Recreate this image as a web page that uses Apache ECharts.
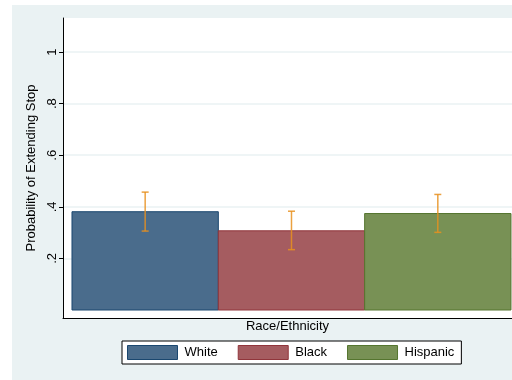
<!DOCTYPE html>
<html>
<head>
<meta charset="utf-8">
<script src="https://cdn.jsdelivr.net/npm/echarts@6/dist/echarts.min.js"></script>
<style>
  html, body { margin: 0; padding: 0; background: #fff; }
  #main { position: absolute; left: 12px; top: 5px; width: 500px; height: 375px; }
</style>
</head>
<body>
<div id="main"></div>
<script>
// 数据
var groups = ['White', 'Black', 'Hispanic'];
var probs = [0.381, 0.307, 0.374];
var ciLow = [0.306, 0.234, 0.301];
var ciHigh = [0.457, 0.383, 0.448];
var yTicks = [0.2, 0.4, 0.6, 0.8, 1];

var fills = ['#4a6c8c', '#a55c60', '#789155'];
var borders = ['#1a476f', '#90353b', '#55752f'];

(function(){

    var chart = echarts.init(document.getElementById('main'));

    // bar spans from x-0.5 to x+0.5 on the value axis
    function barItem(params, api) {
        var x = api.value(0);
        var p0 = api.coord([x - 0.5, api.value(1)]);
        var p1 = api.coord([x + 0.5, 0]);
        return {
            type: 'rect',
            shape: { x: p0[0], y: p0[1], width: p1[0] - p0[0], height: p1[1] - p0[1] },
            style: api.style({ lineWidth: 1 })
        };
    }

    function errItem(params, api) {
        var x = api.value(0);
        var lo = api.coord([x, api.value(1)]);
        var hi = api.coord([x, api.value(2)]);
        var cap = 3.5;
        var st = { stroke: '#e8901f', lineWidth: 1.5, opacity: 0.85 };
        return {
            type: 'group',
            children: [
                { type: 'line', shape: { x1: lo[0], y1: lo[1], x2: hi[0], y2: hi[1] }, style: st },
                { type: 'line', shape: { x1: lo[0] - cap, y1: lo[1], x2: lo[0] + cap, y2: lo[1] }, style: st },
                { type: 'line', shape: { x1: hi[0] - cap, y1: hi[1], x2: hi[0] + cap, y2: hi[1] }, style: st }
            ]
        };
    }

    var series = groups.map(function(name, i){
        return {
            name: name,
            type: 'custom',
            renderItem: barItem,
            itemStyle: { color: fills[i], borderColor: borders[i], borderWidth: 1 },
            encode: { x: 0, y: 1 },
            data: [[i + 0.5, probs[i]]]
        };
    });
    series.push({
        name: 'ci',
        type: 'custom',
        renderItem: errItem,
        encode: { x: 0, y: [1, 2] },
        data: groups.map(function(g, i){ return [i + 0.5, ciLow[i], ciHigh[i]]; }),
        z: 5
    });

    var option = {
        backgroundColor: '#eaf2f3',
        textStyle: { fontFamily: 'Liberation Sans, Arial, sans-serif' },
        animation: false,
        grid: {
            left: 51,
            right: 0,
            top: 13,
            bottom: 62,
            show: true,
            backgroundColor: '#fff',
            borderWidth: 0
        },
        legend: {
            left: 110,
            top: 336,
            padding: [4, 7, 4, 5],
            backgroundColor: '#fff',
            borderColor: '#000',
            borderWidth: 1,
            borderRadius: 0,
            itemWidth: 50,
            itemHeight: 14,
            itemGap: 20,
            icon: 'rect',
            textStyle: { fontSize: 13, color: '#000', padding: [0, 0, 0, 2] },
            data: groups.map(function(g, i){
                return { name: g, itemStyle: { color: fills[i], borderColor: borders[i], borderWidth: 1 } };
            })
        },
        xAxis: {
            type: 'value',
            min: -0.0615,
            max: 3.007,
            name: 'Race/Ethnicity',
            nameLocation: 'middle',
            nameGap: 2,
            nameTextStyle: { fontSize: 13, color: '#000', verticalAlign: 'top' },
            axisLine: { show: true, onZero: false, lineStyle: { color: '#000', width: 1 } },
            axisTick: { show: false },
            axisLabel: { show: false },
            splitLine: { show: false }
        },
        yAxis: {
            type: 'value',
            min: -0.031,
            max: 1.132,
            name: 'Probability of Extending Stop',
            nameLocation: 'middle',
            nameGap: 11,
            nameTextStyle: { fontSize: 13, color: '#000' },
            axisLine: { show: true, onZero: false, lineStyle: { color: '#000', width: 1 } },
            axisTick: { show: true, length: 4, customValues: yTicks, lineStyle: { color: '#000' } },
            axisLabel: {
                customValues: yTicks,
                rotate: 90,
                margin: 4,
                fontSize: 13,
                color: '#000',
                formatter: function(v){
                    return v >= 1 ? '1' : v.toFixed(1).replace('0.', '.');
                }
            },
            splitLine: { show: true, lineStyle: { color: '#eaf2f3', width: 1.5 } }
        },
        series: series
    };

    chart.setOption(option);
})();
</script>
</body>
</html>
